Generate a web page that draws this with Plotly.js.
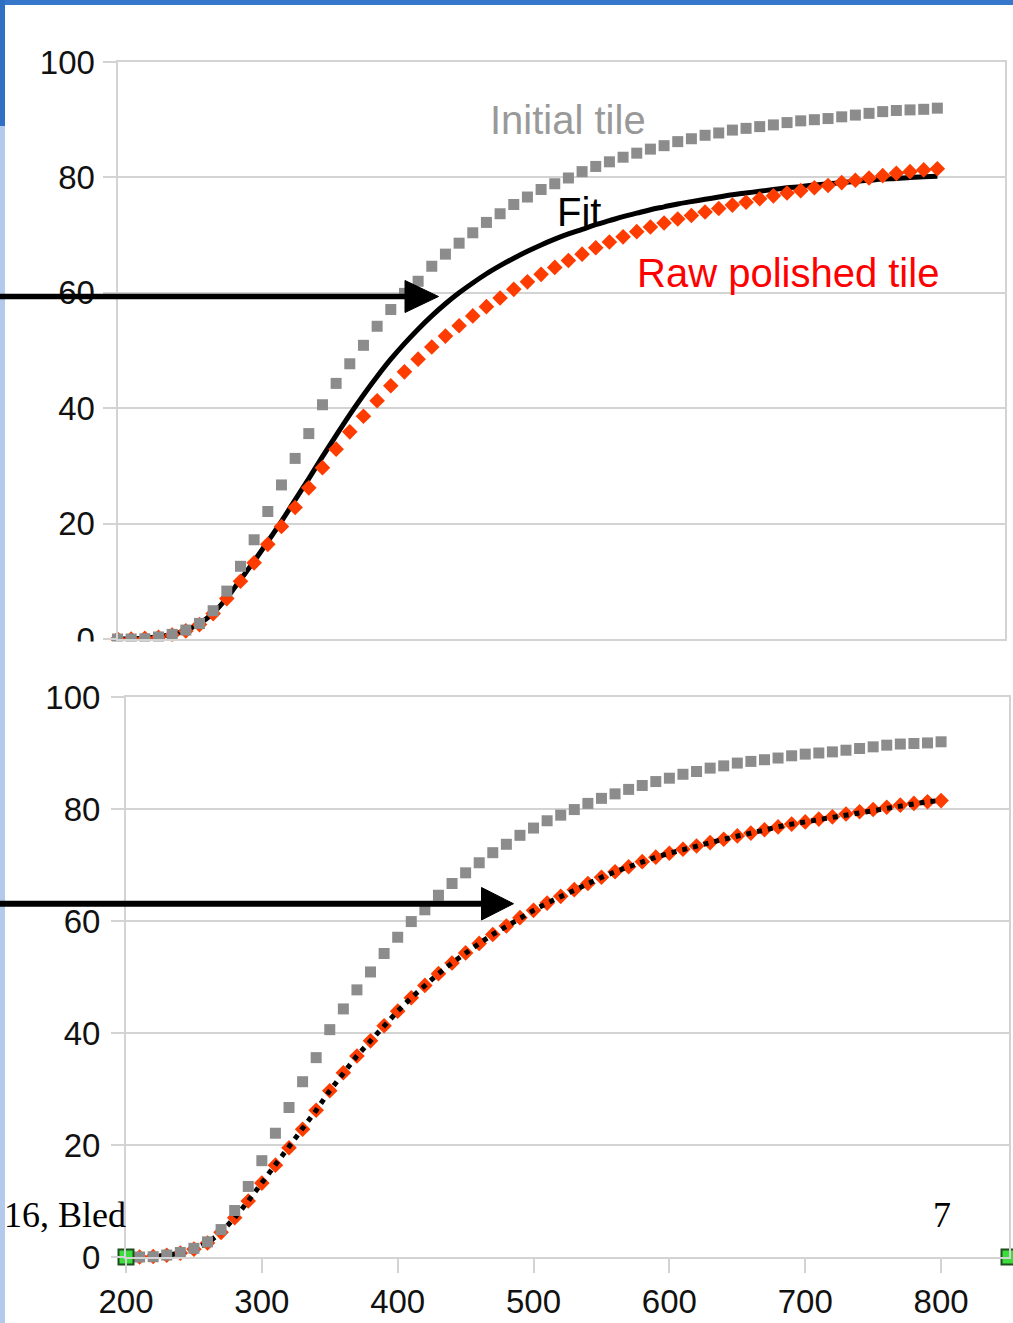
<!DOCTYPE html>
<html>
<head>
<meta charset="utf-8">
<script src="https://cdn.plot.ly/plotly-3.0.1.min.js"></script>
<style>
  html, body { margin: 0; padding: 0; background: #ffffff; overflow: hidden; }
  #chart { width: 1013px; height: 1323px; }
</style>
</head>
<body>
<div id="chart"></div>
<script>
// ---------------- DATA ----------------
const wavelength = [200,210,220,230,240,250,260,270,280,290,
                    300,310,320,330,340,350,360,370,380,390,
                    400,410,420,430,440,450,460,470,480,490,
                    500,510,520,530,540,550,560,570,580,590,
                    600,610,620,630,640,650,660,670,680,690,
                    700,710,720,730,740,750,760,770,780,790,800];

const initialTile = [0,0,0.05,0.35,0.8,1.55,2.7,4.9,8.3,12.6,
                     17.2,22.1,26.7,31.3,35.6,40.6,44.3,47.7,50.9,54.2,
                     57.1,59.9,62.0,64.6,66.7,68.6,70.4,72.2,73.7,75.3,
                     76.6,77.9,78.9,79.9,81.0,81.9,82.7,83.5,84.2,84.9,
                     85.5,86.2,86.7,87.3,87.7,88.2,88.5,88.8,89.1,89.5,
                     89.8,90.0,90.2,90.5,90.8,91.1,91.4,91.6,91.7,91.8,92.0];

const rawPolishedTile = [0,0,0.1,0.3,0.7,1.4,2.5,4.4,7.0,10.0,
                         13.2,16.4,19.5,22.8,26.2,29.7,32.9,35.9,38.6,41.3,
                         43.9,46.3,48.5,50.6,52.5,54.3,56.0,57.6,59.1,60.6,
                         61.9,63.2,64.4,65.6,66.7,67.8,68.8,69.7,70.6,71.4,
                         72.1,72.8,73.4,74.0,74.6,75.2,75.7,76.3,76.8,77.3,
                         77.7,78.2,78.6,79.1,79.5,79.9,80.3,80.7,81.0,81.3,81.5];

const fitTop = [0,0.05,0.15,0.4,0.8,1.5,2.7,4.5,7.1,10.3,
                13.5,16.9,20.4,24.1,27.8,31.6,35.3,38.9,42.3,45.5,
                48.5,51.2,53.7,56.0,58.1,60.0,61.7,63.3,64.7,66.0,
                67.2,68.3,69.3,70.2,71.0,71.8,72.5,73.2,73.8,74.4,
                74.9,75.4,75.8,76.2,76.6,77.0,77.3,77.6,77.9,78.2,
                78.4,78.7,78.9,79.1,79.3,79.5,79.7,79.8,80.0,80.1,80.2];

// bottom panel: fit now coincides with the raw polished tile
const fitBottom = rawPolishedTile;

const handleX = [200, 850];
const handleY = [0, 0];

const yTicks = [0,20,40,60,80,100];
const xTicks = [200,300,400,500,600,700,800];
const xTickText = ['200','300','400','500','600','700','800'];

const labelInitial = 'Initial tile';
const labelFit = 'Fit';
const labelRaw = 'Raw polished tile';
const footerLeft = '16, Bled';
const footerRight = '7';

// ---------------- LAYOUT HELPERS ----------------
const W = 1013, H = 1323;
const fx = p => p / W;
const fy = p => 1 - p / H;

const GRID = '#d3d3d3';
const GRAY = '#8c8c8c';
const RED = '#ff3c00';
const SANS = 'Liberation Sans, Arial, sans-serif';
const SERIF = 'Liberation Serif, Times New Roman, serif';

const traces = [
  // ---- top panel ----
  { x: wavelength, y: fitTop, xaxis: 'x', yaxis: 'y', mode: 'lines',
    line: { color: '#000000', width: 5, shape: 'spline' }, cliponaxis: false, name: 'Fit' },
  { x: wavelength, y: rawPolishedTile, xaxis: 'x', yaxis: 'y', mode: 'markers',
    marker: { symbol: 'diamond', size: 12, color: RED }, cliponaxis: false, name: 'Raw' },
  { x: wavelength, y: initialTile, xaxis: 'x', yaxis: 'y', mode: 'markers',
    marker: { symbol: 'square', size: 11, color: GRAY }, cliponaxis: false, name: 'Initial' },
  // ---- bottom panel ----
  { x: wavelength, y: rawPolishedTile, xaxis: 'x2', yaxis: 'y2', mode: 'markers',
    marker: { symbol: 'diamond', size: 12, color: RED }, cliponaxis: false, name: 'Raw2' },
  { x: wavelength, y: fitBottom, xaxis: 'x2', yaxis: 'y2', mode: 'lines',
    line: { color: '#000000', width: 5, dash: '5px,6px' }, cliponaxis: false, name: 'Fit2' },
  { x: wavelength, y: initialTile, xaxis: 'x2', yaxis: 'y2', mode: 'markers',
    marker: { symbol: 'square', size: 11, color: GRAY }, cliponaxis: false, name: 'Initial2' },
  { x: handleX, y: handleY, xaxis: 'x2', yaxis: 'y2', mode: 'markers',
    marker: { symbol: 'square', size: 15, color: '#3ddc3d', line: { color: '#1f4d1f', width: 2 } },
    cliponaxis: false, name: 'handles' }
];

const yAxisCommon = {
  range: [0, 100], tickvals: yTicks, ticktext: yTicks.map(String),
  showgrid: true, gridcolor: GRID, gridwidth: 2, zeroline: false,
  showline: true, linecolor: GRID, linewidth: 2, mirror: true,
  ticks: 'outside', ticklen: 13, tickcolor: GRID, tickwidth: 2,
  tickfont: { family: SANS, size: 33, color: '#111111' },
  ticklabelstandoff: 1, fixedrange: true
};

const layout = {
  width: W, height: H,
  margin: { l: 0, r: 0, t: 0, b: 0, pad: 0 },
  paper_bgcolor: '#ffffff', plot_bgcolor: '#ffffff',
  showlegend: false,
  xaxis: {
    domain: [fx(117.5), fx(1005)], range: [200, 849.5], anchor: 'y',
    showgrid: false, zeroline: false, showline: true, linecolor: GRID, linewidth: 2, mirror: true,
    ticks: '', showticklabels: false, fixedrange: true
  },
  yaxis: Object.assign({}, yAxisCommon, { domain: [fy(639), fy(62)], anchor: 'x' }),
  xaxis2: {
    domain: [fx(126), fx(1009)], range: [200, 850], anchor: 'y2',
    tickvals: xTicks, ticktext: xTickText,
    showgrid: false, zeroline: false, showline: true, linecolor: GRID, linewidth: 2, mirror: true,
    ticks: 'outside', ticklen: 14, tickcolor: GRID, tickwidth: 2,
    tickfont: { family: SANS, size: 33, color: '#111111' }, fixedrange: true
  },
  yaxis2: Object.assign({}, yAxisCommon, { domain: [fy(1257), fy(697)], anchor: 'x2', ticklabelstandoff: 4 }),
  shapes: [
    // crop of the upper screenshot
    { type: 'rect', xref: 'paper', yref: 'paper', x0: fx(5), x1: fx(1013), y0: fy(683), y1: fy(641.5),
      fillcolor: '#ffffff', line: { width: 0 }, layer: 'above' },
    // slide decorations
    { type: 'rect', xref: 'paper', yref: 'paper', x0: 0, x1: 1, y0: fy(5), y1: 1,
      fillcolor: '#3677cc', line: { width: 0 }, layer: 'above' },
    { type: 'rect', xref: 'paper', yref: 'paper', x0: 0, x1: fx(5), y0: fy(126), y1: 1,
      fillcolor: '#2f6fc4', line: { width: 0 }, layer: 'above' },
    { type: 'rect', xref: 'paper', yref: 'paper', x0: 0, x1: fx(5), y0: 0, y1: fy(126),
      fillcolor: '#b3caec', line: { width: 0 }, layer: 'above' },
    // upper arrow
    { type: 'line', xref: 'paper', yref: 'paper', x0: fx(-5), x1: fx(410), y0: fy(296.5), y1: fy(296.5),
      line: { color: '#000000', width: 5.5 }, layer: 'above' },
    { type: 'path', xref: 'paper', yref: 'paper', layer: 'above',
      path: `M ${fx(405)},${fy(280.5)} L ${fx(438.5)},${fy(296.5)} L ${fx(405)},${fy(312.5)} Z`,
      fillcolor: '#000000', line: { color: '#000000', width: 1 } },
    // lower arrow
    { type: 'line', xref: 'paper', yref: 'paper', x0: fx(-5), x1: fx(485), y0: fy(903.7), y1: fy(903.7),
      line: { color: '#000000', width: 6 }, layer: 'above' },
    { type: 'path', xref: 'paper', yref: 'paper', layer: 'above',
      path: `M ${fx(481.5)},${fy(887.5)} L ${fx(513.5)},${fy(903.7)} L ${fx(481.5)},${fy(920)} Z`,
      fillcolor: '#000000', line: { color: '#000000', width: 1 } }
  ],
  annotations: [
    { text: labelInitial, xref: 'paper', yref: 'paper', x: fx(568), y: fy(120), showarrow: false,
      xanchor: 'center', yanchor: 'middle', font: { family: SANS, size: 40, color: '#999999' } },
    { text: labelFit, xref: 'paper', yref: 'paper', x: fx(579), y: fy(212), showarrow: false,
      xanchor: 'center', yanchor: 'middle', font: { family: SANS, size: 40, color: '#000000' } },
    { text: labelRaw, xref: 'paper', yref: 'paper', x: fx(788), y: fy(273), showarrow: false,
      xanchor: 'center', yanchor: 'middle', font: { family: SANS, size: 40, color: '#ff0000' } },
    { text: footerLeft, xref: 'paper', yref: 'paper', x: fx(128), y: fy(1215), showarrow: false,
      xanchor: 'right', yanchor: 'middle', font: { family: SERIF, size: 36, color: '#000000' } },
    { text: footerRight, xref: 'paper', yref: 'paper', x: fx(942), y: fy(1215), showarrow: false,
      xanchor: 'center', yanchor: 'middle', font: { family: SERIF, size: 36, color: '#000000' } }
  ]
};

Plotly.newPlot('chart', traces, layout, { staticPlot: true, displayModeBar: false });
</script>
</body>
</html>
